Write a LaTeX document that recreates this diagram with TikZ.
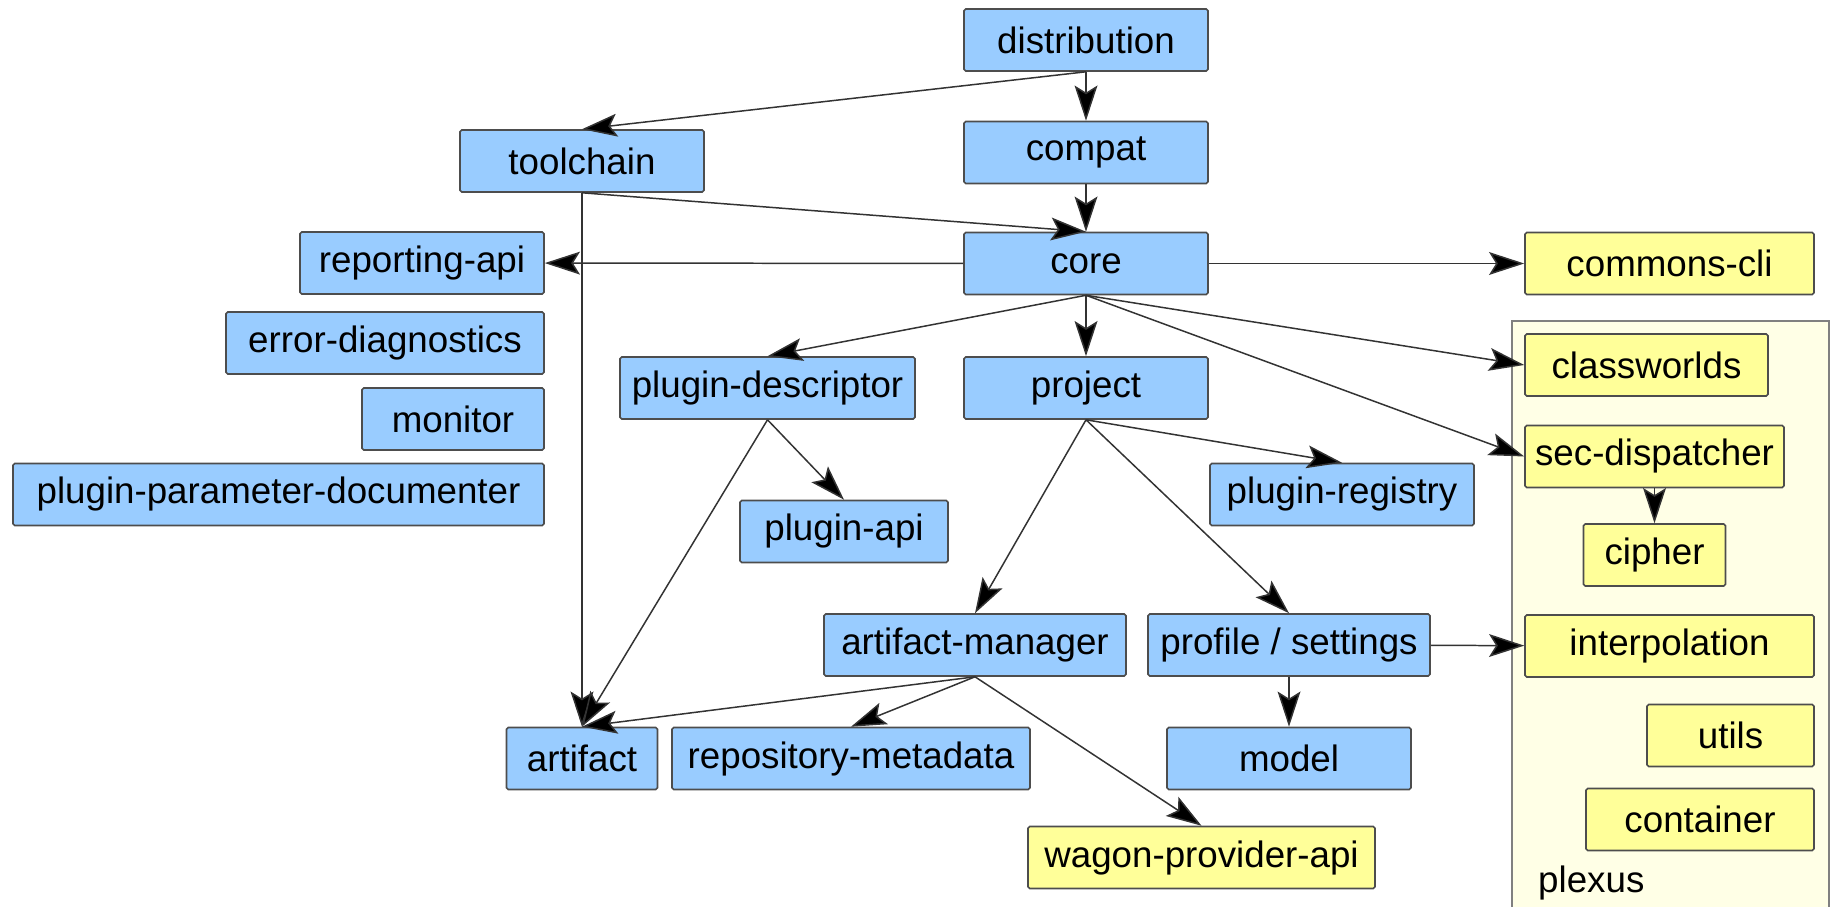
\documentclass[tikz,border=0pt]{standalone}
\usepackage{fontspec}
\setmainfont{Liberation Sans}
\usetikzlibrary{arrows.meta}

\definecolor{modblue}{HTML}{99CCFF}
\definecolor{extyellow}{HTML}{FFFF99}
\definecolor{plexusbg}{HTML}{FFFFE6}
\definecolor{boxline}{HTML}{4D4D4D}

\begin{document}
\begin{tikzpicture}[
   mod/.style={draw=boxline,line width=0.9pt,fill=modblue,rounded corners=1pt,
     minimum height=1.24cm,inner sep=0pt,font=\fontsize{20.9}{24}\selectfont},
   ext/.style={mod,fill=extyellow},
   dep/.style={-{Stealth[length=20pt,width=13pt,inset=4pt,fill=black]},line width=0.85pt,draw=black!80}
  ]
   \useasboundingbox (0,0) rectangle (36.7,-18.14);
   % plexus group, open at the bottom
   \fill[plexusbg] (30.24,-18.14) rectangle (36.58,-6.42);
   \draw[gray,line width=1pt] (30.24,-18.14) |- (36.58,-6.42) -- (36.58,-18.14);
   \path (30.64,-17.84) node[anchor=base west,font=\fontsize{20.9}{24}\selectfont] (plexus) {plexus};

   \path (21.72,-0.80) node[mod,minimum width=4.88cm] (dist) {distribution};
   \path (21.72,-3.05) node[mod,minimum width=4.88cm] (compat) {compat};
   \path (21.72,-5.27) node[mod,minimum width=4.88cm] (core) {core};
   \path (21.72,-7.76) node[mod,minimum width=4.88cm] (project) {project};
   \path (11.64,-3.22) node[mod,minimum width=4.88cm] (toolchain) {toolchain};
   \path (8.44,-5.26) node[mod,minimum width=4.88cm] (reporting) {reporting-api};
   \path (7.70,-6.86) node[mod,minimum width=6.36cm] (errdiag) {error-diagnostics};
   \path (9.06,-8.38) node[mod,minimum width=3.64cm] (monitor) {monitor};
   \path (5.57,-9.89) node[mod,minimum width=10.62cm] (ppdoc) {plugin-parameter-documenter};
   \path (15.35,-7.76) node[mod,minimum width=5.90cm] (pdesc) {plugin-descriptor};
   \path (16.88,-10.63) node[mod,minimum width=4.16cm] (papi) {plugin-api};
   \path (26.84,-9.89) node[mod,minimum width=5.28cm] (preg) {plugin-registry};
   \path (19.50,-12.90) node[mod,minimum width=6.04cm] (amgr) {artifact-manager};
   \path (25.78,-12.90) node[mod,minimum width=5.64cm] (profile) {profile / settings};
   \path (11.64,-15.17) node[mod,minimum width=3.02cm] (artifact) {artifact};
   \path (17.02,-15.17) node[mod,minimum width=7.16cm] (repometa) {repository-metadata};
   \path (25.78,-15.17) node[mod,minimum width=4.88cm] (model) {model};

   \path (24.03,-17.15) node[ext,minimum width=6.94cm] (wagon) {wagon-provider-api};
   \path (33.39,-5.27) node[ext,minimum width=5.78cm] (cli) {commons-cli};
   \path (32.93,-7.30) node[ext,minimum width=4.86cm] (classworlds) {classworlds};
   \path (33.09,-9.13) node[ext,minimum width=5.18cm] (secdisp) {sec-dispatcher};
   \path (33.09,-11.10) node[ext,minimum width=2.84cm] (cipher) {cipher};
   \path (33.39,-12.92) node[ext,minimum width=5.78cm] (interp) {interpolation};
   \path (34.61,-14.71) node[ext,minimum width=3.34cm] (utils) {utils};
   \path (34.00,-16.39) node[ext,minimum width=4.56cm] (container) {container};

   % dependencies
   \draw[dep] (dist.south) -- (toolchain.north);
   \draw[dep] (dist) -- (compat);
   \draw[dep] (compat) -- (core);
   \draw[dep] (toolchain.south) -- (core.north);
   \draw[dep] (toolchain.south) -- (artifact.north);
   \draw[dep] (core) -- (reporting);
   \draw[dep] (core) -- (cli);
   \draw[dep] (core.south) -- (pdesc.north);
   \draw[dep] (core) -- (project);
   \draw[dep] (core.south) -- (classworlds.west);
   \draw[dep] (core.south) -- (secdisp.west);
   \draw[dep] (pdesc.south) -- (papi.north);
   \draw[dep] (pdesc.south) -- (artifact.north);
   \draw[dep] (project.south) -- (preg.north);
   \draw[dep] (project.south) -- (amgr.north);
   \draw[dep] (project.south) -- (profile.north);
   \draw[dep] (amgr.south) -- (artifact.north);
   \draw[dep] (amgr.south) -- (repometa.north);
   \draw[dep] (amgr.south) -- (wagon.north);
   \draw[dep] (profile) -- (model);
   \draw[dep] (profile) -- (interp);
   \draw[dep] (secdisp) -- (cipher);
\end{tikzpicture}
\end{document}
